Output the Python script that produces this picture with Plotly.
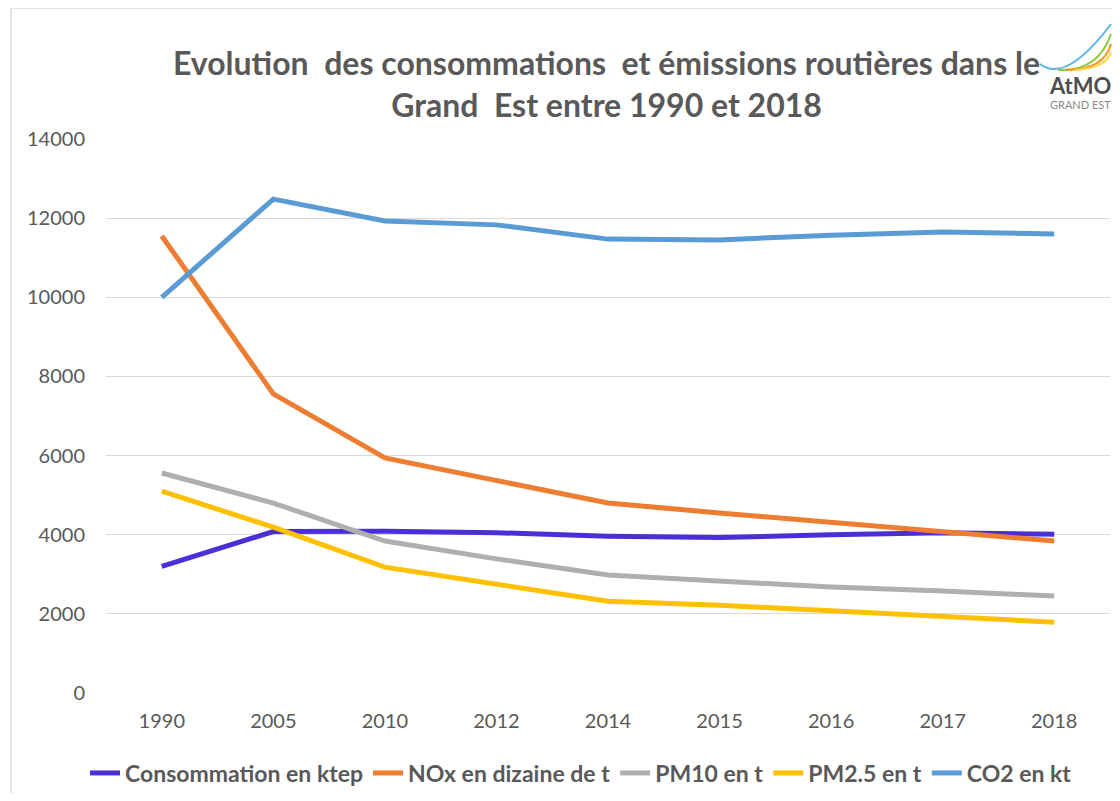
import plotly.graph_objects as go

# the page adds an 8px body margin; the figure is sized and positioned to compensate
OFF = 8
W, H = 1120 - 2 * OFF, 801 - 2 * OFF

years = ["1990", "2005", "2010", "2012", "2014", "2015", "2016", "2017", "2018"]
consommation = [3200, 4080, 4090, 4050, 3960, 3930, 4000, 4050, 4010]
nox = [11550, 7560, 5940, 5380, 4800, 4550, 4320, 4070, 3840]
pm10 = [5560, 4800, 3840, 3390, 2980, 2830, 2680, 2580, 2450]
pm25 = [5100, 4190, 3180, 2750, 2320, 2220, 2070, 1920, 1790]
co2 = [10000, 12480, 11930, 11830, 11470, 11450, 11570, 11650, 11600]

series = [
    ("Consommation en ktep", consommation, "#4B2FD6"),
    ("NOx en dizaine de t", nox, "#ED7D31"),
    ("PM10 en t", pm10, "#AFAFAF"),
    ("PM2.5 en t", pm25, "#FFC000"),
    ("CO2 en kt", co2, "#5B9BD5"),
]

def px(x):
    return (x - OFF) / W

def py(y):
    return 1 - (y - OFF) / H

fig = go.Figure()
for name, vals, col in series:
    fig.add_trace(go.Scatter(x=years, y=vals, name=name, mode="lines",
                             line=dict(color=col, width=5)))

grey = "#595959"
fig.update_layout(
    width=W, height=H,
    margin=dict(l=0, r=0, t=0, b=0, autoexpand=False),
    paper_bgcolor="white", plot_bgcolor="white",
    font=dict(family="Lato", size=20, color=grey),
    showlegend=True,
    legend=dict(orientation="h", x=px(581), xanchor="center", y=py(773), yanchor="middle",
                font=dict(family="Lato", size=23, color=grey, weight="bold"),
                itemwidth=30, tracegroupgap=0),
    xaxis=dict(type="category", domain=[px(106), px(1110)], range=[-0.5, 8.5],
               showgrid=False, automargin=False,
               showline=False, ticks="", ticklabelstandoff=14,
               tickfont=dict(family="Lato", size=20, color=grey)),
    yaxis=dict(range=[0, 14000], dtick=2000, domain=[py(693), py(139)], automargin=False,
               gridcolor="#D9D9D9", gridwidth=1, zeroline=False, showline=False,
               ticks="", ticklabelstandoff=20, tickformat="d",
               tickfont=dict(family="Lato", size=20, color=grey)),
)

fig.add_annotation(
    text="<b>Evolution&nbsp; des consommations&nbsp; et émissions routières dans le<br>Grand&nbsp; Est entre 1990 et 2018</b>",
    xref="paper", yref="paper", x=px(606), y=py(84), xanchor="center", yanchor="middle",
    showarrow=False, font=dict(family="Lato", size=32, color=grey), align="center")

# Border of chart area
fig.add_shape(type="rect", xref="paper", yref="paper",
              x0=px(11), x1=px(1140), y0=py(820), y1=py(8),
              line=dict(color="#D9D9D9", width=1.5), fillcolor="rgba(0,0,0,0)", layer="below")

# Logo swooshes
def curve(x0, y0, cx, cy, x1, y1):
    return f"M {px(x0)},{py(y0)} Q {px(cx)},{py(cy)} {px(x1)},{py(y1)}"

for (pts, col) in [
    ((1040, 64, 1066, 84, 1111, 24), "#5BB4E5"),
    ((1058, 70, 1098, 72, 1111, 34), "#8DC63F"),
    ((1066, 70, 1104, 70, 1111, 44), "#F7941D"),
    ((1074, 70, 1107, 68, 1111, 52), "#FFD23F"),
]:
    fig.add_shape(type="path", xref="paper", yref="paper", path=curve(*pts),
                  line=dict(color=col, width=2))

fig.add_annotation(text="<b>AtMO</b>", xref="paper", yref="paper", x=px(1080), y=py(86),
                   xanchor="center", yanchor="middle", showarrow=False,
                   font=dict(family="Lato", size=22, color="#4D4D4D"))
fig.add_annotation(text="GRAND EST", xref="paper", yref="paper", x=px(1080), y=py(105),
                   xanchor="center", yanchor="middle", showarrow=False,
                   font=dict(family="Lato", size=11, color="#8A8A8A"))

fig.write_html("out.html")
